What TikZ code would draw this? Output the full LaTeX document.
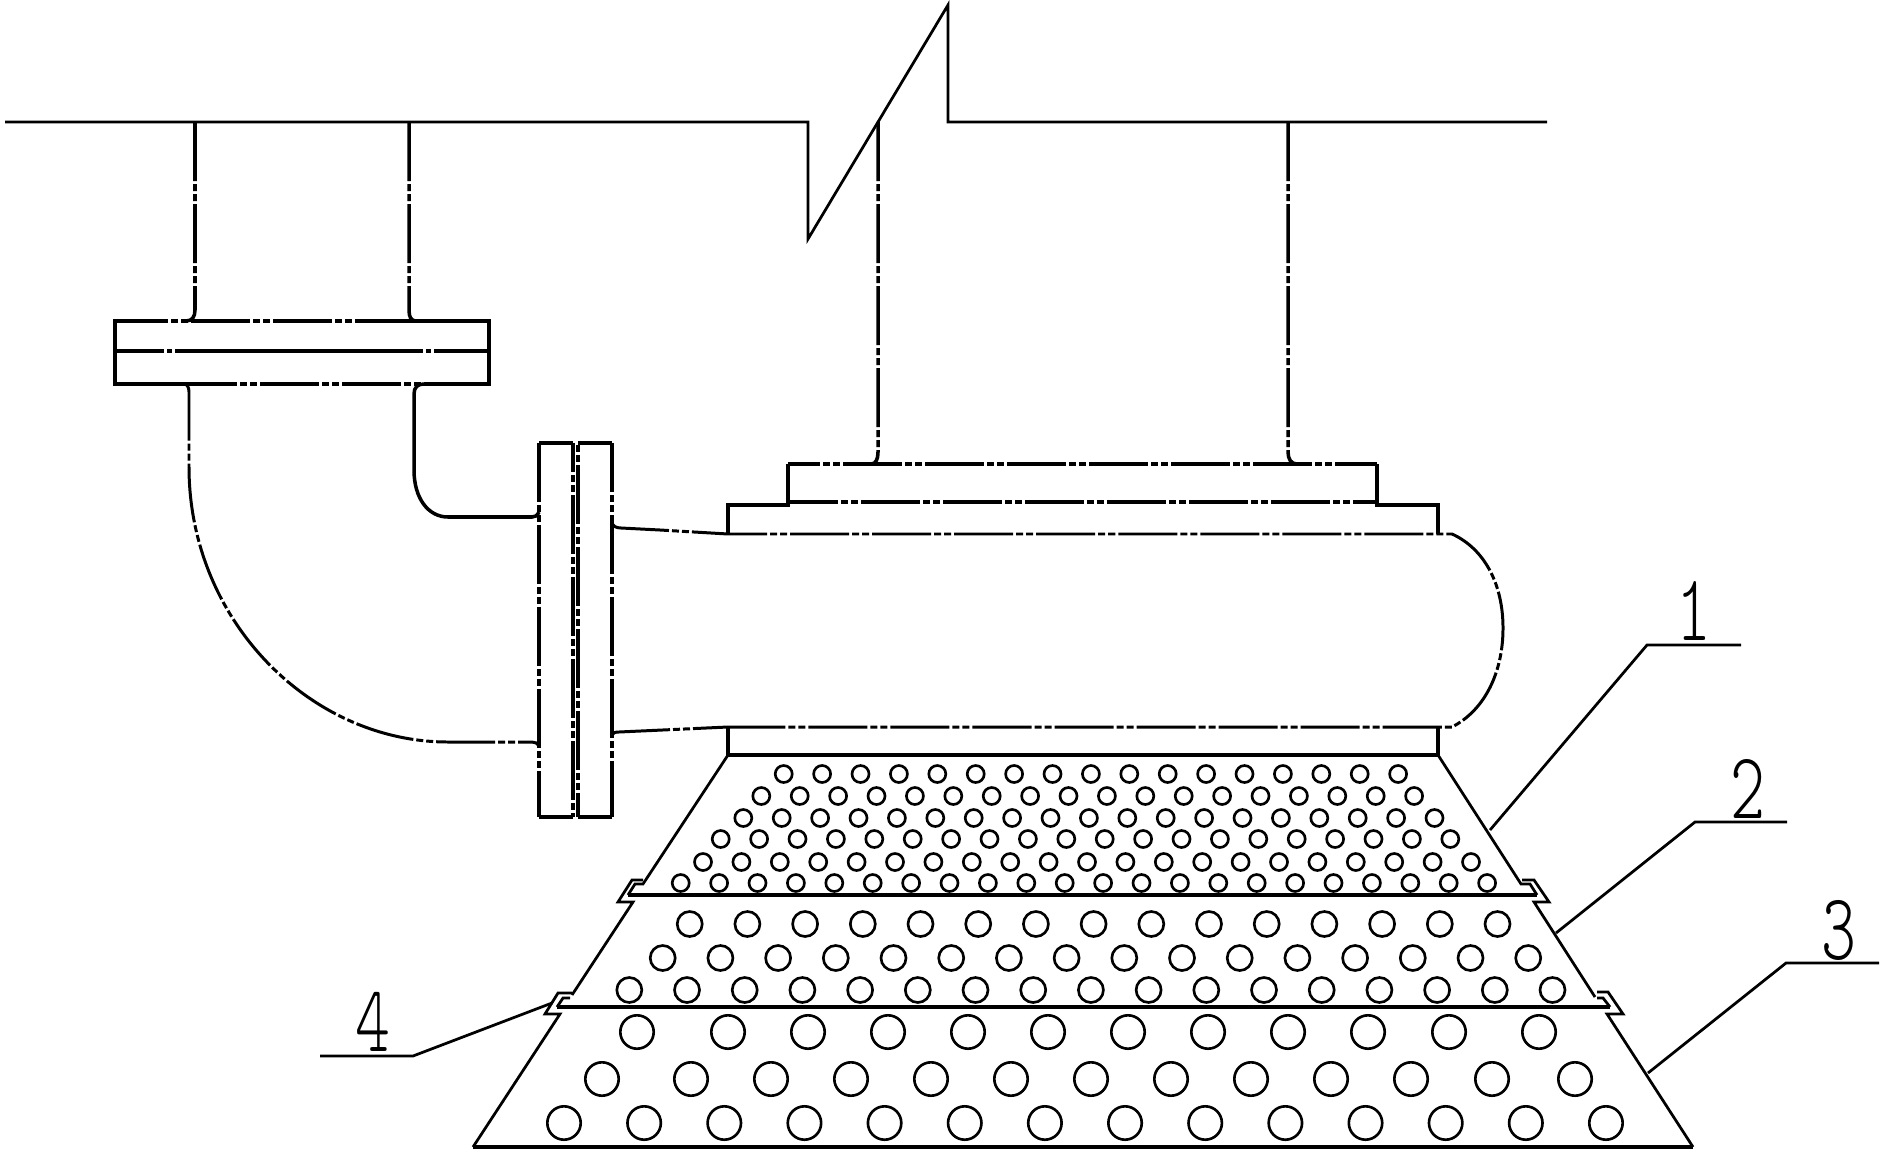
\documentclass[tikz,border=0pt]{standalone}
\usepackage{fontspec}
\usepackage{tikz}
\newfontfamily\digitfont[FakeStretch=0.7]{Latin Modern Mono Light}
\tikzset{
  heavy/.style={line width=1pt},
  thin line/.style={line width=.78pt},
  phantom/.style={line width=1pt, dash pattern=on .59cm off .03cm on .07cm off .03cm on .07cm off .03cm},
  curve line/.style={line width=.85pt, dash pattern=on .59cm off .03cm on .07cm off .03cm on .07cm off .03cm},
  hole/.style={line width=.75pt},
  digit/.style={font=\digitfont\fontsize{27}{27}\selectfont, inner sep=0pt}
}

\begin{document}
\begin{tikzpicture}[x=.01cm, y=-.01cm, line join=miter]
  \useasboundingbox (0,0) rectangle (1880,1152);
  % wall with break line
  \draw [thin line] (5,122) -- (808,122) -- (808,239) -- (948,5) -- (948,122) -- (1547,122);
  % pipes going up
  \draw [phantom] (195,122) -- (195,310) .. controls (195,317) and (192,321) .. (186,321);
  \draw [phantom] (409,122) -- (409,310) .. controls (409,317) and (411,321) .. (416,321);
  \draw [phantom] (878,122) -- (878,452) .. controls (878,459) and (876,464) .. (871,464);
  \draw [phantom] (1288,122) -- (1288,452) .. controls (1288,459) and (1291,464) .. (1297,464);
  % upper flange
  \draw [heavy] (364,321) -- (489,321) -- (489,384) -- (430,384);
  \draw [heavy] (178,384) -- (115,384) -- (115,321) -- (120,321);
  \draw [phantom, dash phase=.06cm] (115,321) -- (364,321);
  \draw [phantom] (178,384) -- (430,384);
  \draw [heavy, dash pattern=on .49cm off .03cm on .05cm off .03cm on 2.48cm off .03cm on .05cm off .03cm on 1cm] (115,351) -- (489,351);
  % elbow
  \draw [curve line] (184,384) .. controls (187,384) and (189,387) .. (189,392) -- (189,467)
    .. controls (189,620) and (310,742) .. (448,742) -- (532,742)
    .. controls (535,742) and (537,743) .. (539,746);
  \draw [heavy] (424,384) .. controls (418,384) and (414,387) .. (414,394) -- (414,470)
    .. controls (414,498) and (428,517) .. (448,517) -- (532,517)
    .. controls (535,517) and (537,516) .. (539,512);
  % two flanges
  \draw [heavy] (539,817) -- (573,817);
  \draw [heavy] (539,443) -- (573,443);
  \draw [heavy] (578,817) -- (612,817);
  \draw [heavy] (578,443) -- (612,443);
  \draw [phantom] (539,443) -- (539,817);
  \draw [phantom, dash phase=.3cm] (573,443) -- (573,817);
  \draw [phantom, dash phase=.6cm] (578,443) -- (578,817);
  \draw [phantom, dash phase=.1cm] (612,443) -- (612,817);
  % necks
  \draw [curve line] (612,523) .. controls (613,526) and (616,528) .. (621,528) -- (660,530) -- (728,534);
  \draw [curve line] (612,735) .. controls (613,733) and (615,732) .. (619,732) -- (728,727);
  % plates
  \draw [heavy] (728,534) -- (728,505) -- (788,505) -- (788,464);
  \draw [heavy] (1438,534) -- (1438,505) -- (1377,505) -- (1377,464);
  \draw [phantom, dash phase=.27cm] (788,464) -- (1377,464);
  \draw [phantom, dash phase=.09cm] (788,502) -- (1377,502);
  % body
  \draw [curve line, dash phase=.2cm] (728,534) -- (1452,534)
    .. controls (1485,549) and (1503,585) .. (1503,628)
    .. controls (1503,672) and (1485,710) .. (1452,727) -- (728,727);
  \draw [heavy] (728,727) -- (728,755);
  \draw [heavy] (1438,727) -- (1438,755);
  \draw [line width=1.15pt] (728,755) -- (1438,755);
  % upper cone, hooks and thick line
  \draw [thin line] (728,755) -- (643,884) -- (635,884) -- (628,895);
  \draw [thin line] (1438,755) -- (1521,884) -- (1530,884) -- (1537,895);
  \draw [line width=1.15pt] (628,895) -- (1537,895);
  \draw [thin line] (643,880) -- (632,880) -- (618,902) -- (633,902) -- (572,995);
  \draw [thin line] (1522,880) -- (1534,880) -- (1549,902) -- (1534,902) -- (1595,997);
  % second joint
  \draw [thin line] (570,998) -- (563,998) -- (557,1007);
  \draw [thin line] (1597,998) -- (1603,998) -- (1610,1007);
  \draw [line width=1.15pt] (557,1007) -- (1610,1007);
  \draw [thin line] (572,993) -- (558,993) -- (545,1014) -- (560,1014) -- (473,1147);
  \draw [thin line] (1597,992) -- (1608,992) -- (1623,1014) -- (1607,1014) -- (1693,1147);
  \draw [line width=1.15pt] (473,1147) -- (1693,1147);
  % small holes: start, last index, y
  \foreach \xa/\n/\ya in {783.7/16/774, 761.3/17/796, 743.3/18/818, 720.7/19/839, 703/20/862, 680.7/21/883}
    \foreach \i in {0,...,\n}
      \draw [hole] (\xa+38.4*\i,\ya) circle [radius=8.5];
  % middle holes
  \foreach \xa/\n/\ya in {689.7/14/924, 662.7/15/958, 629.3/16/990}
    \foreach \i in {0,...,\n}
      \draw [hole] (\xa+57.7*\i,\ya) circle [radius=12.5];
  % large holes
  \foreach \xa in {637,728,808,888,968,1048,1128,1208,1288,1368,1449,1539}
    \draw [hole] (\xa,1032) circle [radius=16.7];
  \foreach \xa in {602,691,771,851,931,1011,1091,1171,1251,1331,1411,1492,1575}
    \draw [hole] (\xa,1079) circle [radius=16.7];
  \foreach \i in {0,...,13}
    \draw [hole] (564+80.15*\i,1123) circle [radius=16.7];
  % leaders
  \node [digit] (one) at (1694,611) {1};
  \node [digit] (two) at (1748,789) {2};
  \node [digit] (three) at (1839,930) {3};
  \node [digit] (four) at (373,1022) {4};
  \draw [thin line] (1490,830) -- (1647,645) -- (1741,645);
  \draw [thin line] (1556,933) -- (1695,822) -- (1787,822);
  \draw [thin line] (1648,1073) -- (1786,963) -- (1879,963);
  \draw [thin line] (552,1003) -- (413,1056) -- (320,1056);
\end{tikzpicture}
\end{document}
